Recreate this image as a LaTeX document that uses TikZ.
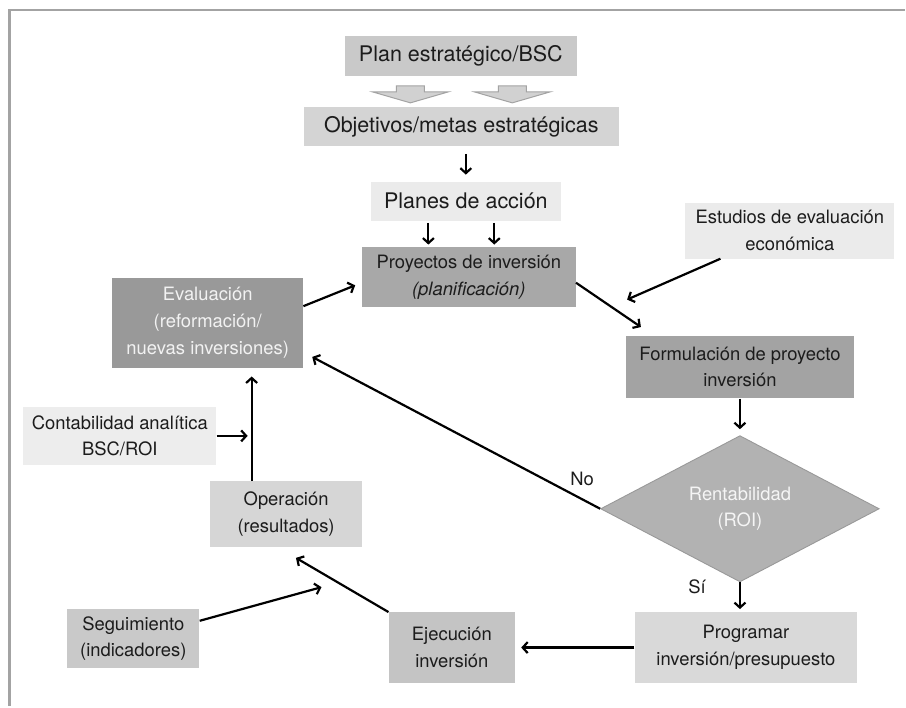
\documentclass[tikz,border=0pt]{standalone}
\usepackage{fontspec}
\setmainfont{TeX Gyre Heros}
\usepackage{tikz}
\usetikzlibrary{positioning, arrows.meta, shapes.geometric, calc}

\definecolor{framegray}{HTML}{A3A3A3}
\definecolor{txtdark}{HTML}{1C1C1C}

\begin{document}
\begin{tikzpicture}[
  x=1bp, y=-1bp,
  font=\fontsize{18.5}{27}\selectfont, text=txtdark,
  box/.style={align=center, inner sep=0pt},
  bigbox/.style={box, font=\fontsize{21.6}{26}\selectfont},
  arr/.style={line width=2.2bp, -{Straight Barb[length=5bp, width=11bp]}},
  blockarrow/.style={fill=black!18, draw=black!36, line width=1bp, line join=miter},
]
  % frame (top and left edges only)
  \draw[framegray, line width=2.6bp] (9.5,707) -- (9.5,10) -- (906,10);
  \useasboundingbox (0,0) rectangle (906,707);

  % strategy chain
  \node[bigbox, fill=black!21, minimum width=233, minimum height=40] (plan) at (461.5,56) {Plan estratégico/BSC};
  \node[bigbox, fill=black!17, minimum width=316, minimum height=39] (obj) at (462,126.5) {Objetivos/metas estratégicas};
  \node[bigbox, fill=black!8,  minimum width=191, minimum height=39] (planes) at (466.5,201.5) {Planes de acción};
  \node[box, fill=black!34, minimum width=215, minimum height=61] (proy) at (469.5,277.5)
    {Proyectos de inversión\\\textit{(planificación)}};

  \foreach \cx in {411,513}
    \draw[blockarrow] (\cx-14,86) -- (\cx+14,86) -- (\cx+14,92) -- (\cx+38,92)
      -- (\cx,103) -- (\cx-38,92) -- (\cx-14,92) -- cycle;

  % cycle
  \node[box, fill=black!40, text=white!95!black, minimum width=192, minimum height=91] (eval) at (208,323.5)
    {Evaluación\\(reformación/\\nuevas inversiones)};
  \node[box, fill=black!8, minimum width=210, minimum height=56] (estud) at (791,231)
    {Estudios de evaluación\\económica};
  \node[box, fill=black!36, minimum width=229, minimum height=63] (form) at (741,367.5)
    {Formulación de proyecto\\inversión};
  \node[box, diamond, fill=black!30, draw=black!40, line width=0.9bp, text=white!96!black,
    minimum width=280, minimum height=113] (roi) at (741,509.5) {Rentabilidad\\(ROI)};
  \node[box, fill=black!15, minimum width=224, minimum height=71] (prog) at (747,648.5)
    {Programar\\inversión/presupuesto};
  \node[box, fill=black!23, minimum width=127, minimum height=71] (ejec) at (452.5,648.5)
    {Ejecución\\inversión};
  \node[box, fill=black!16, minimum width=153, minimum height=66] (oper) at (286.5,515)
    {Operación\\(resultados)};
  \node[box, fill=black!7, minimum width=194, minimum height=59] (cont) at (120,436.5)
    {Contabilidad analítica\\BSC/ROI};
  \node[box, fill=black!21, minimum width=133, minimum height=59] (segu) at (133.5,639.5)
    {Seguimiento\\(indicadores)};

  \node (nolbl) at (583,480) {No};
  \node (silbl) at (698,588) {Sí};

  \coordinate (estudtip) at (628,300);
  \coordinate (segutip) at (322,588);
  \coordinate (opx) at ([xshift=-34.5bp]oper.north);

  % connectors
  \draw[arr, shorten <=8bp, shorten >=7bp] (planes.north |- obj.south) -- (planes.north);
  \draw[arr, shorten <=2bp, shorten >=2bp] ([xshift=-37.5bp]planes.south) -- ([xshift=-37.5bp]planes.south |- proy.north);
  \draw[arr, shorten <=2bp, shorten >=2bp] ([xshift=28.5bp]planes.south) -- ([xshift=28.5bp]planes.south |- proy.north);
  \draw[arr, shorten >=7bp] (eval.10) -- (proy.183);
  \draw[arr, shorten >=15bp] (proy.-3) -- (form.160);
  \draw[arr] (estud.202) -- (estudtip);
  \draw[arr, shorten >=6bp] (form.south) -- (roi.north);
  \draw[arr, shorten >=10bp] (roi.west) -- (eval.-17);
  \draw[arr, shorten >=3bp] (roi.south) -- (roi.south |- prog.north);
  \draw[arr, shorten >=6bp] (prog.west) -- (ejec.east);
  \draw[arr, shorten >=21bp] (ejec.north west) -- (oper.256);
  \draw[arr] (segu.15) -- (segutip);
  \draw[arr, shorten >=8bp] (opx) -- (opx |- eval.south);
  \draw[arr, shorten >=4bp] (cont.east) -- (cont.east -| opx);
\end{tikzpicture}
\end{document}
